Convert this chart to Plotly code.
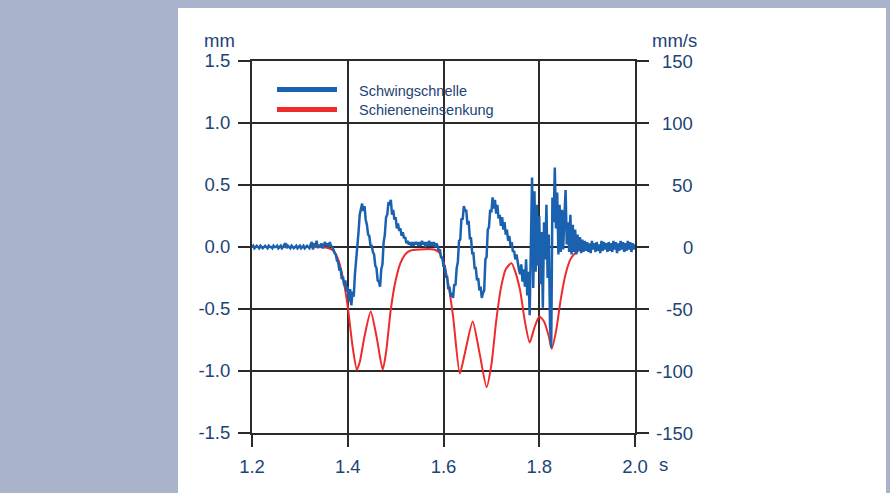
import numpy as np
import plotly.graph_objects as go

# ---------------- data ----------------
# Schieneneinsenkung (rail deflection), mm, left axis
RED_T = [1.20, 1.25, 1.30, 1.34, 1.36, 1.37, 1.38, 1.39, 1.40, 1.41, 1.419, 1.425, 1.435,
         1.448, 1.46, 1.473, 1.48, 1.49, 1.50, 1.51, 1.52, 1.53, 1.55, 1.58, 1.59, 1.60,
         1.61, 1.62, 1.634, 1.645, 1.661, 1.675, 1.69, 1.70, 1.71, 1.72, 1.73, 1.742,
         1.75, 1.76, 1.77, 1.78, 1.79, 1.80, 1.81, 1.82, 1.826, 1.835, 1.845, 1.855,
         1.865, 1.875, 1.89, 1.95, 2.00]
RED_MM = [0.0, 0.0, 0.0, 0.0, -0.01, -0.03, -0.10, -0.25, -0.48, -0.80, -0.99, -0.93, -0.72,
          -0.52, -0.72, -0.99, -0.85, -0.50, -0.27, -0.13, -0.06, -0.03, -0.02, -0.02, -0.04, -0.12,
          -0.30, -0.56, -1.02, -0.85, -0.60, -0.85, -1.13, -0.95, -0.60, -0.33, -0.18, -0.13,
          -0.20, -0.35, -0.60, -0.77, -0.65, -0.56, -0.60, -0.72, -0.82, -0.68, -0.42, -0.22,
          -0.10, -0.05, -0.01, 0.00, 0.01]

# Schwingschnelle (vibration velocity), mm/s, right axis; sampled every 2.5 ms from 1.2 s
BLUE_T0 = 1.2
BLUE_DT = 0.0025
BLUE_MMS = [
    0, 1, -1, 0, 1, 0, -1, 1, 0, -1, 0, 1, 0, -1, 1, 0, 0, -1, 1, 0,
    0, 1, -1, 0, 1, -1, 0, 2, 3, -1, 1, 0, -1, 1, 0, -1, 0, 1, -1, 0,
    1, -1, 0, 1, -1, 0, 1, 0, -1, 2, 4, -2, 3, 1, 5, -1, 2, 0, 3, -1,
    2, 4, 1, 3, 0, 4, 1, 0, -2, -5, -6, -11, -12, -19, -17, -26, -24, -31, -27, -36,
    -32, -44, -34, -47, -36, -40, -22, -12, 4, 12, 26, 30, 35, 29, 33, 22, 18, 10, 9, 1,
    1, -4, -6, -15, -17, -27, -28, -32, -18, -14, 4, 10, 24, 26, 36, 35, 38, 26, 30, 22,
    24, 15, 19, 13, 15, 9, 12, 7, 8, 3, 5, 2, 4, 1, 4, 1, 4, 2, 4, 1,
    4, 1, 5, 2, 4, 0, 4, 1, 5, 1, 4, 1, 4, 0, 3, 1, -3, -2, -9, -8,
    -16, -15, -24, -24, -34, -32, -40, -37, -41, -30, -31, -17, -12, 5, 6, 23, 22, 33, 29, 30,
    18, 21, 7, 7, -5, -5, -17, -17, -27, -25, -35, -32, -41, -37, -35, -10, -8, 14, 16, 30,
    28, 40, 31, 38, 27, 34, 23, 26, 17, 24, 14, 20, 10, 14, 5, 9, 1, 4, -4, -3,
    -10, -6, -14, -18, -22, -14, -28, -18, -32, -10, -39, -20, -55, 10, 56, -33, 45, -20, 34, -15,
    25, -30, 12, -49, 20, -10, 34, -25, 10, -63, -81, 40, 20, 64, 15, 44, -6, 34, -4, 30,
    -2, 24, 46, 2, 20, -4, 26, -6, 18, -4, 14, -6, 10, -3, 8, -5, 6, -4, 5, -3,
    4, -4, 3, -5, 5, -2, 3, -4, 4, -3, 2, -5, 5, -3, 4, -2, 3, -4, 4, -3,
    3, -4, 5, -2, 4, -5, 3, -3, 5, -2, 4, -4, 3, -3, 5, -2, 4, -4, 3, -2,
    2,
]
BLUE_T = BLUE_T0 + BLUE_DT * np.arange(len(BLUE_MMS))

X_TICKS = [1.2, 1.4, 1.6, 1.8, 2.0]
X_TICK_LABELS = ["1.2", "1.4", "1.6", "1.8", "2.0"]
L_TICKS = [-1.5, -1.0, -0.5, 0.0, 0.5, 1.0, 1.5]
L_TICK_LABELS = ["-1.5", "-1.0", "-0.5", "0.0", "0.5", "1.0", "1.5"]
R_TICKS = [-150, -100, -50, 0, 50, 100, 150]
R_TICK_LABELS = ["-150", "-100", "-50", "0", "50", "100", "150"]

SERIES_NAMES = ["Schwingschnelle", "Schieneneinsenkung"]
BLUE = "#1a62b0"
RED = "#ee2a2a"
TXT = "#1d4476"
GRID = "#2b2b2b"
BG = "#a9b3cc"
FONT = "Liberation Sans, Arial, Helvetica, sans-serif"
FS = 18.5

fig = go.Figure()
fig.add_trace(go.Scatter(x=BLUE_T, y=BLUE_MMS, mode="lines", name=SERIES_NAMES[0],
                         yaxis="y2", line=dict(color=BLUE, width=2.5), showlegend=False))
fig.add_trace(go.Scatter(x=RED_T, y=RED_MM, mode="lines", name=SERIES_NAMES[1],
                         yaxis="y", line=dict(color=RED, width=2, shape="spline", smoothing=0.6),
                         showlegend=False))

axis_common = dict(showline=True, linecolor=GRID, linewidth=2, ticks="outside", ticklen=12,
                   tickwidth=2, tickcolor=GRID, zeroline=False,
                   tickfont=dict(family=FONT, size=FS, color=TXT))

fig.update_layout(
    width=890, height=493,
    margin=dict(l=252, r=255, t=61, b=60),
    paper_bgcolor=BG,
    plot_bgcolor="white",
    font=dict(family=FONT, color=TXT),
    xaxis=dict(range=[1.2, 2.0], tickvals=X_TICKS, ticktext=X_TICK_LABELS, showgrid=True,
               gridcolor=GRID, gridwidth=2, mirror=True, ticklabelstandoff=4, **axis_common),
    yaxis=dict(range=[-1.5, 1.5], tickvals=L_TICKS, ticktext=L_TICK_LABELS, showgrid=True,
               gridcolor=GRID, gridwidth=2, mirror=True, ticklabelstandoff=4, **axis_common),
    yaxis2=dict(range=[-150, 150], tickvals=R_TICKS, overlaying="y", side="right",
                showgrid=False, showticklabels=False, **axis_common),
)

# white panel behind the chart
fig.add_shape(type="rect", xref="paper", yref="paper", x0=-0.1932, x1=1.6554, y0=-0.17, y1=1.1425,
              fillcolor="white", line_width=0, layer="below")

# right axis labels, right aligned
for v, lab in zip(R_TICKS, R_TICK_LABELS):
    fig.add_annotation(x=1.1567, xref="paper", y=v, yref="y2", text=lab, showarrow=False,
                       xanchor="right", yanchor="middle", font=dict(family=FONT, size=FS, color=TXT))

# unit labels
fig.add_annotation(x=-0.039, xref="paper", y=1.056, yref="paper", text="mm", showarrow=False,
                   xanchor="right", yanchor="middle", font=dict(family=FONT, size=18.5, color=TXT))
fig.add_annotation(x=1.039, xref="paper", y=1.056, yref="paper", text="mm/s", showarrow=False,
                   xanchor="left", yanchor="middle", font=dict(family=FONT, size=18.5, color=TXT))
fig.add_annotation(x=1.058, xref="paper", y=-0.086, yref="paper", text="s", showarrow=False,
                   xanchor="left", yanchor="middle", font=dict(family=FONT, size=FS, color=TXT))

# legend
for name, col, yk, yt in [(SERIES_NAMES[0], BLUE, 0.9234, 0.9195),
                          (SERIES_NAMES[1], RED, 0.8696, 0.8680)]:
    fig.add_shape(type="line", xref="paper", yref="paper", x0=0.0653, x1=0.2219, y0=yk, y1=yk,
                  line=dict(color=col, width=5))
    fig.add_annotation(x=0.2742, xref="paper", y=yt, yref="paper", text=name, showarrow=False,
                       xanchor="left", yanchor="middle", font=dict(family=FONT, size=14.5, color=TXT))

fig.write_html("out.html", config={"displayModeBar": False},
               post_script="document.body.style.margin='0';document.body.style.background='%s';" % BG)
